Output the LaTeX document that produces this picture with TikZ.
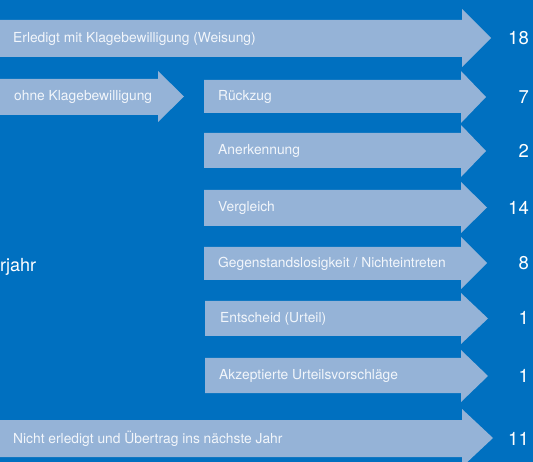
\documentclass[tikz,border=0pt]{standalone}
\usepackage{fontspec}
\setmainfont{TeX Gyre Heros}
\definecolor{bgblue}{HTML}{0070C0}
\definecolor{arrblue}{HTML}{95B3D7}
\definecolor{lbltext}{HTML}{F2F6FB}
\newcommand\flowarrow[8]{%
  % #1 x0, #2 body top, #3 body bottom, #4 head x, #5 head top, #6 head bottom, #7 tip x, #8 name
  \fill[arrowfill] (#1,#2) -- (#4,#2) -- (#4,#5) -- (#7,{(#5+#6)/2}) -- (#4,#6) -- (#4,#3) -- (#1,#3) -- cycle;
  \coordinate (#8-w) at (#1,{(#2+#3)/2});
  \coordinate (#8-tip) at (#7,{(#5+#6)/2});
}
\begin{document}
\begin{tikzpicture}[x=1pt,y=-1pt,
  arrowfill/.style={fill=arrblue},
  lbl/.style={anchor=west,text=lbltext,font=\fontsize{13.8}{15}\selectfont,inner sep=0pt},
  num/.style={anchor=east,text=white,font=\fontsize{18.5}{20}\selectfont,inner sep=0pt},
  side/.style={anchor=west,text=white,font=\fontsize{18}{20}\selectfont,inner sep=0pt}]
\useasboundingbox (0,0) rectangle (533,462);
\fill[bgblue] (0,0) rectangle (533,462);
\begin{scope}
\clip (0,0) rectangle (533,462);
\flowarrow{0}{20}{57}{462}{9}{67}{491}{a1}
\flowarrow{0}{79}{115}{158}{71}{122}{184}{a2}
\flowarrow{204}{80}{113}{461}{71}{123}{486}{a3}
\flowarrow{204}{133}{168}{461}{125}{177}{486}{a4}
\flowarrow{204}{190}{226}{461}{182}{233}{487}{a5}
\flowarrow{204}{247}{280}{461}{237}{289}{487}{a6}
\flowarrow{205}{301}{336}{461}{293}{344}{488}{a7}
\flowarrow{205}{358}{393}{461}{350}{402}{488}{a8}
\flowarrow{0}{420}{457}{462}{409}{467}{493}{a9}
\end{scope}
\node[lbl] (l1) at ([xshift=13pt]a1-w) {Erledigt mit Klagebewilligung (Weisung)};
\node[lbl] (l2) at ([xshift=14pt]a2-w) {ohne Klagebewilligung};
\node[lbl] (l3) at ([xshift=14pt]a3-w) {Rückzug};
\node[lbl] (l4) at ([xshift=14pt]a4-w) {Anerkennung};
\node[lbl] (l5) at ([xshift=14pt]a5-w) {Vergleich};
\node[lbl] (l6) at ([xshift=14pt]a6-w) {Gegenstandslosigkeit / Nichteintreten};
\node[lbl] (l7) at ([xshift=15pt]a7-w) {Entscheid (Urteil)};
\node[lbl] (l8) at ([xshift=14pt]a8-w) {Akzeptierte Urteilsvorschläge};
\node[lbl] (l9) at ([xshift=13pt]a9-w) {Nicht erledigt und Übertrag ins nächste Jahr};
\node[num] (n1) at (529,38) {18};
\node[num] (n3) at (529,97) {7};
\node[num] (n4) at (529,151) {2};
\node[num] (n5) at (529,208) {14};
\node[num] (n6) at (529,263) {8};
\node[num] (n7) at (529,318) {1};
\node[num] (n8) at (529,376) {1};
\node[num] (n9) at (529,439) {11};
\node[side] (vj) at (0,267) {rjahr};
\end{tikzpicture}
\end{document}
